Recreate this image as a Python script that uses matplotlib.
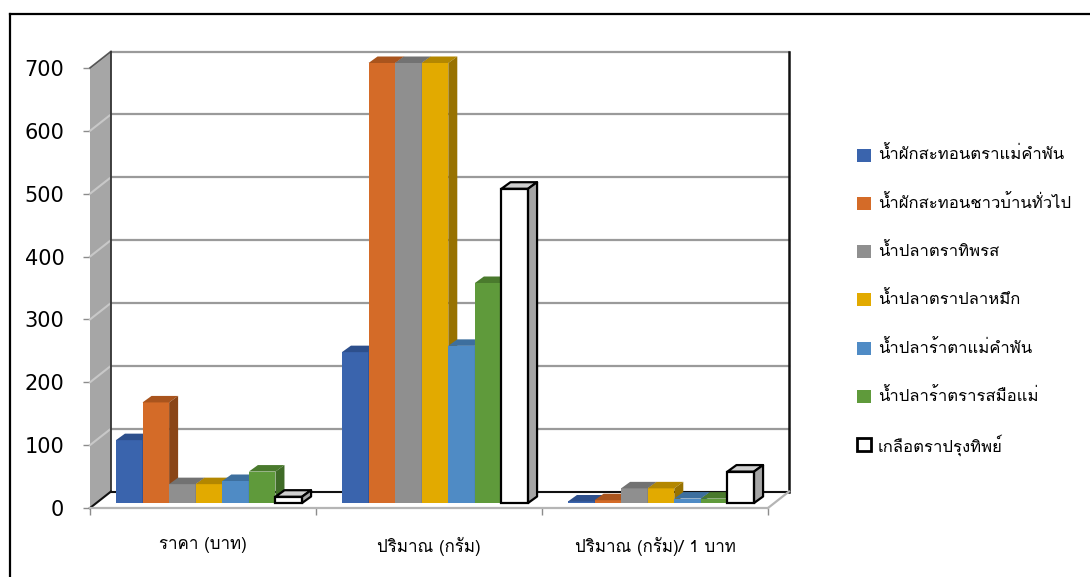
import matplotlib
matplotlib.use("Agg")
import matplotlib.pyplot as plt
from matplotlib.patches import Polygon, Rectangle
from matplotlib.lines import Line2D
from matplotlib import font_manager
from matplotlib.ft2font import FT2Font

# ---------------- data ----------------
categories = ["ราคา (บาท)", "ปริมาณ (กรัม)", "ปริมาณ (กรัม)/ 1 บาท"]
series_names = [
    "น้ำผักสะทอนตราแม่คำพัน",
    "น้ำผักสะทอนชาวบ้านทั่วไป",
    "น้ำปลาตราทิพรส",
    "น้ำปลาตราปลาหมึก",
    "น้ำปลาร้าตาแม่คำพัน",
    "น้ำปลาร้าตรารสมือแม่",
    "เกลือตราปรุงทิพย์",
]
price = [100, 160, 30, 30, 35, 50, 10]
quantity = [240, 700, 700, 700, 250, 350, 500]
per_baht = [2.4, 4.4, 23.3, 23.3, 7.1, 7.0, 50.0]
y_ticks = [0, 100, 200, 300, 400, 500, 600, 700]

front_colors = ['#3a64ad', '#d46b28', '#8f8f8f', '#e2aa00', '#4f8bc5', '#5f9a3b', '#ffffff']
top_colors = ['#2d4f8c', '#a9541d', '#727272', '#b38700', '#3d6f9e', '#4a7a2d', '#cfcfcf']
side_colors = ['#284684', '#8a4517', '#6b6b6b', '#987200', '#335f8a', '#3f6b27', '#a6a6a6']

# ---------------- fonts ----------------
def thai_fonts():
    out = []
    seen = set()
    for f in font_manager.fontManager.ttflist:
        if f.name in seen:
            continue
        try:
            ft = FT2Font(f.fname)
            if ft.get_char_index(ord('ก')) and ft.get_char_index(ord('้')):
                out.append(f.name)
                seen.add(f.name)
        except Exception:
            pass
    return out

cands = thai_fonts()
thai = 'Loma' if 'Loma' in cands else (cands[0] if cands else 'DejaVu Sans')
thai_family = [thai, 'DejaVu Sans']

# ---------------- geometry ----------------
W, H, DPI = 1090, 577, 100
fig = plt.figure(figsize=(W / DPI, H / DPI), dpi=DPI)
ax = fig.add_axes([90 / W, (H - 508) / H, 678 / W, 440 / H])
ncat = len(categories)
ymax = y_ticks[-1]
ax.set_xlim(0, ncat)
ax.set_ylim(0, ymax)
for s in ax.spines.values():
    s.set_visible(False)
ax.patch.set_visible(False)

kx = ncat / 678.0   # data per pixel
ky = ymax / 440.0
WDX, WDY = 21 * kx, 16.5 * ky      # wall depth
BOX, BOY = 6 * kx, 5 * ky          # bar plane offset
BDX, BDY = 9 * kx, 6.5 * ky        # bar depth

# left wall
ax.add_patch(Polygon([(0, 0), (0, ymax), (WDX, ymax + WDY), (WDX, WDY)], closed=True,
                     facecolor='#a6a6a6', edgecolor='none', clip_on=False, zorder=1))
# floor
ax.add_patch(Polygon([(0, 0), (ncat, 0), (ncat + WDX, WDY), (WDX, WDY)], closed=True,
                     facecolor='#ffffff', edgecolor='none', clip_on=False, zorder=1))
# gridlines
for v in y_ticks[1:]:
    ax.plot([0, WDX], [v, v + WDY], color='#c8c8c8', lw=1.5, clip_on=False, zorder=2)
    ax.plot([WDX, ncat + WDX], [v + WDY, v + WDY], color='#9a9a9a', lw=1.6, clip_on=False, zorder=2)
ax.plot([0, WDX], [ymax, ymax + WDY], color='#555555', lw=1.2, clip_on=False, zorder=3)
# back wall edges
ax.plot([WDX, WDX], [WDY, ymax + WDY], color='#333333', lw=1.3, clip_on=False, zorder=3)
ax.plot([ncat + WDX, ncat + WDX], [WDY, ymax + WDY], color='#111111', lw=1.8, clip_on=False, zorder=3)
ax.plot([WDX, ncat + WDX], [WDY, WDY], color='#111111', lw=1.5, clip_on=False, zorder=3)
ax.plot([0, WDX], [0, WDY], color='#111111', lw=1.5, clip_on=False, zorder=3)
# floor front/right edges
ax.plot([0, ncat], [0, 0], color='#b5b5b5', lw=1.6, clip_on=False, zorder=3)
ax.plot([ncat, ncat + WDX], [0, WDY], color='#b5b5b5', lw=1.6, clip_on=False, zorder=3)

# bars
nser = len(series_names)
w = 1.0 / (nser + 1.5)
groups = [price, quantity, per_baht]
for i in range(nser):
    vals = [g[i] for g in groups]
    xs = [c + 0.75 * w + i * w + BOX for c in range(ncat)]
    is_white = front_colors[i] == '#ffffff'
    ec = 'black' if is_white else 'none'
    lw = 1.6 if is_white else 0
    z = 10 + i
    ax.bar(xs, vals, width=w, bottom=BOY, align='edge', color=front_colors[i],
           edgecolor=ec, linewidth=lw, zorder=z, clip_on=False)
    for x0, v in zip(xs, vals):
        top = [(x0, BOY + v), (x0 + w, BOY + v), (x0 + w + BDX, BOY + v + BDY), (x0 + BDX, BOY + v + BDY)]
        side = [(x0 + w, BOY), (x0 + w, BOY + v), (x0 + w + BDX, BOY + v + BDY), (x0 + w + BDX, BOY + BDY)]
        ax.add_patch(Polygon(top, closed=True, facecolor=top_colors[i], edgecolor=ec,
                             linewidth=lw, zorder=z, clip_on=False, joinstyle='round'))
        ax.add_patch(Polygon(side, closed=True, facecolor=side_colors[i], edgecolor=ec,
                             linewidth=lw, zorder=z, clip_on=False, joinstyle='round'))

# ticks
ax.set_yticks(y_ticks)
ax.set_yticklabels([str(v) for v in y_ticks])
ax.tick_params(axis='y', length=5, width=1, color='#8c8c8c', pad=13.5, labelsize=15)
ax.set_xticks(range(ncat + 1))
ax.set_xticklabels([''] * (ncat + 1))
ax.set_xticks([c + 0.5 for c in range(ncat)], minor=True)
ax.set_xticklabels(categories, minor=True, family=thai_family, fontsize=12.2)
ax.tick_params(axis='x', which='major', length=5, width=1, color='#8c8c8c')
ax.tick_params(axis='x', which='minor', length=0, pad=21)

# legend
leg_y0 = 155
for i, name in enumerate(series_names):
    yc = leg_y0 + i * 48.3
    is_white = front_colors[i] == '#ffffff'
    fig.add_artist(Rectangle((857 / W, 1 - (yc + 6.5) / H), 14 / W, 13 / H, transform=fig.transFigure,
                             facecolor=front_colors[i], edgecolor='black' if is_white else 'none',
                             linewidth=2 if is_white else 0))
    fig.text(878 / W, 1 - yc / H, name, family=thai_family, fontsize=12, va='center', ha='left')

# outer frame
fig.add_artist(Line2D([10 / W, 1], [1 - 14 / H, 1 - 14 / H], transform=fig.transFigure, color='black', lw=1.6))
fig.add_artist(Line2D([10 / W, 10 / W], [0, 1 - 14 / H], transform=fig.transFigure, color='black', lw=1.6))

fig.savefig('out.png', dpi=DPI)
